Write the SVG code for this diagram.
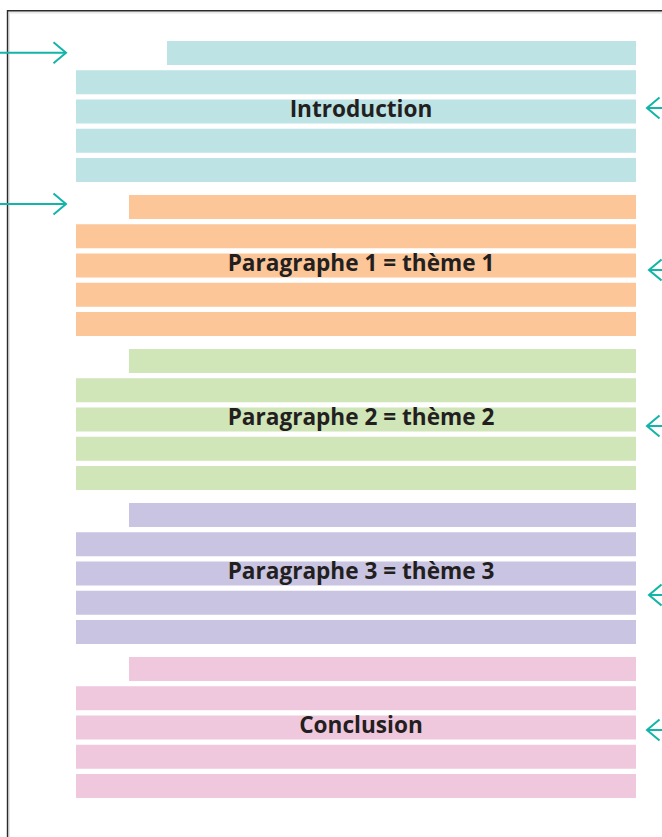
<svg xmlns="http://www.w3.org/2000/svg" width="662" height="837" viewBox="0 0 662 837">
<style>
.bg{fill:#ffffff}
.frame{fill:none;stroke:#2a2a2a;stroke-width:1.4}
.shadow{fill:none;stroke:#e6e6e6;stroke-width:2}
.intro rect{fill:#bde3e5}
.p1 rect{fill:#fdc699}
.p2 rect{fill:#d0e5b8}
.p3 rect{fill:#c8c4e2}
.concl rect{fill:#f0c8de}
.label{font-family:"Open Sans","Noto Sans","DejaVu Sans",sans-serif;font-weight:700;font-size:22.6px;fill:#231f20;text-anchor:middle}
.arrow{fill:none;stroke:#12b5a8;stroke-width:2;marker-end:url(#chev)}
</style>
<defs>
<marker id="chev" markerUnits="userSpaceOnUse" viewBox="-16 -14 20 28" refX="0" refY="0" markerWidth="20" markerHeight="28" orient="auto">
<path d="M-12.5,-10.5 L0,0 L-12.5,10.5" fill="none" stroke="#12b5a8" stroke-width="2"/>
</marker>
</defs>
<rect class="bg" x="0" y="0" width="662" height="837"/>
<path class="shadow" d="M9,900 V12.5 H700"/>
<path class="frame" d="M7.5,900 V10.7 H700"/>
<g id="introduction" class="intro">
<rect x="167" y="41" width="469" height="24"/>
<rect x="76" y="70.25" width="560" height="24"/>
<rect x="76" y="99.5" width="560" height="24"/>
<rect x="76" y="128.75" width="560" height="24"/>
<rect x="76" y="158" width="560" height="24"/>
<text class="label" x="361" y="117">Introduction</text>
</g>
<g id="paragraphe1" class="p1">
<rect x="129" y="195" width="507" height="24"/>
<rect x="76" y="224.25" width="560" height="24"/>
<rect x="76" y="253.5" width="560" height="24"/>
<rect x="76" y="282.75" width="560" height="24"/>
<rect x="76" y="312" width="560" height="24"/>
<text class="label" x="361" y="271">Paragraphe 1 = thème 1</text>
</g>
<g id="paragraphe2" class="p2">
<rect x="129" y="349" width="507" height="24"/>
<rect x="76" y="378.25" width="560" height="24"/>
<rect x="76" y="407.5" width="560" height="24"/>
<rect x="76" y="436.75" width="560" height="24"/>
<rect x="76" y="466" width="560" height="24"/>
<text class="label" x="361" y="425">Paragraphe 2 = thème 2</text>
</g>
<g id="paragraphe3" class="p3">
<rect x="129" y="503" width="507" height="24"/>
<rect x="76" y="532.25" width="560" height="24"/>
<rect x="76" y="561.5" width="560" height="24"/>
<rect x="76" y="590.75" width="560" height="24"/>
<rect x="76" y="620" width="560" height="24"/>
<text class="label" x="361" y="579">Paragraphe 3 = thème 3</text>
</g>
<g id="conclusion" class="concl">
<rect x="129" y="657" width="507" height="24"/>
<rect x="76" y="686.25" width="560" height="24"/>
<rect x="76" y="715.5" width="560" height="24"/>
<rect x="76" y="744.75" width="560" height="24"/>
<rect x="76" y="774" width="560" height="24"/>
<text class="label" x="361" y="733">Conclusion</text>
</g>
<g id="connectors">
<path class="arrow" d="M0,52.7 H66"/>
<path class="arrow" d="M0,204 H66"/>
<path class="arrow" d="M664,108 H647"/>
<path class="arrow" d="M664,270 H649"/>
<path class="arrow" d="M664,426 H647"/>
<path class="arrow" d="M664,595 H649"/>
<path class="arrow" d="M664,730 H647"/>
</g>
</svg>
